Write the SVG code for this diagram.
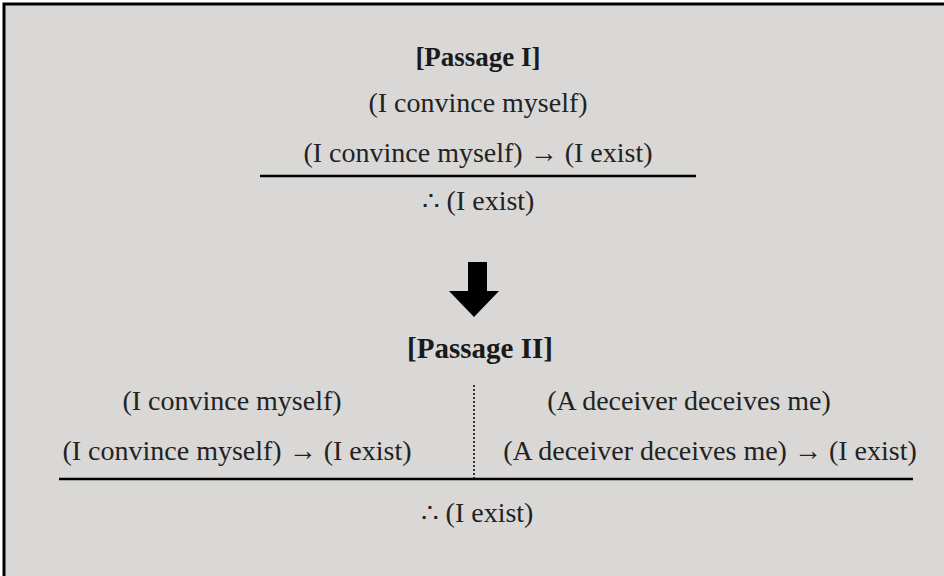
<svg xmlns="http://www.w3.org/2000/svg" width="944" height="576" viewBox="0 0 944 576">
<style>
.t{font-family:"Liberation Serif","Times New Roman",serif;font-size:28px;fill:#222;text-anchor:middle}
.b{font-weight:bold;font-size:27px;fill:#1a1a1a}
.b2{font-size:29px}
.rule{stroke:#000;stroke-width:2.5}
</style>
<rect x="0" y="0" width="944" height="576" fill="#fff"/>
<rect x="4" y="4" width="950" height="590" fill="#d9d8d6" stroke="#000" stroke-width="3"/>
<g id="passage1">
<text class="t b" x="478" y="66">[Passage I]</text>
<text class="t" x="478" y="112">(I convince myself)</text>
<text class="t" x="478" y="162">(I convince myself) → (I exist)</text>
<line class="rule" x1="260" y1="176" x2="696" y2="176"/>
<text class="t" x="478" y="210">∴ (I exist)</text>
</g>
<g id="arrow">
<polygon points="468,262 487,262 487,291 499,291 474,317 449,291 468,291" fill="#000"/>
</g>
<g id="passage2">
<text class="t b b2" x="480" y="358">[Passage II]</text>
<text class="t" x="232" y="410">(I convince myself)</text>
<text class="t" x="237" y="460">(I convince myself) → (I exist)</text>
<text class="t" x="689" y="410">(A deceiver deceives me)</text>
<text class="t" x="710" y="460">(A deceiver deceives me) → (I exist)</text>
<line x1="474" y1="385" x2="474" y2="478" stroke="#000" stroke-width="1.5" stroke-dasharray="2,2"/>
<line class="rule" x1="59" y1="479" x2="913" y2="479"/>
<text class="t" x="477" y="522">∴ (I exist)</text>
</g>
</svg>
